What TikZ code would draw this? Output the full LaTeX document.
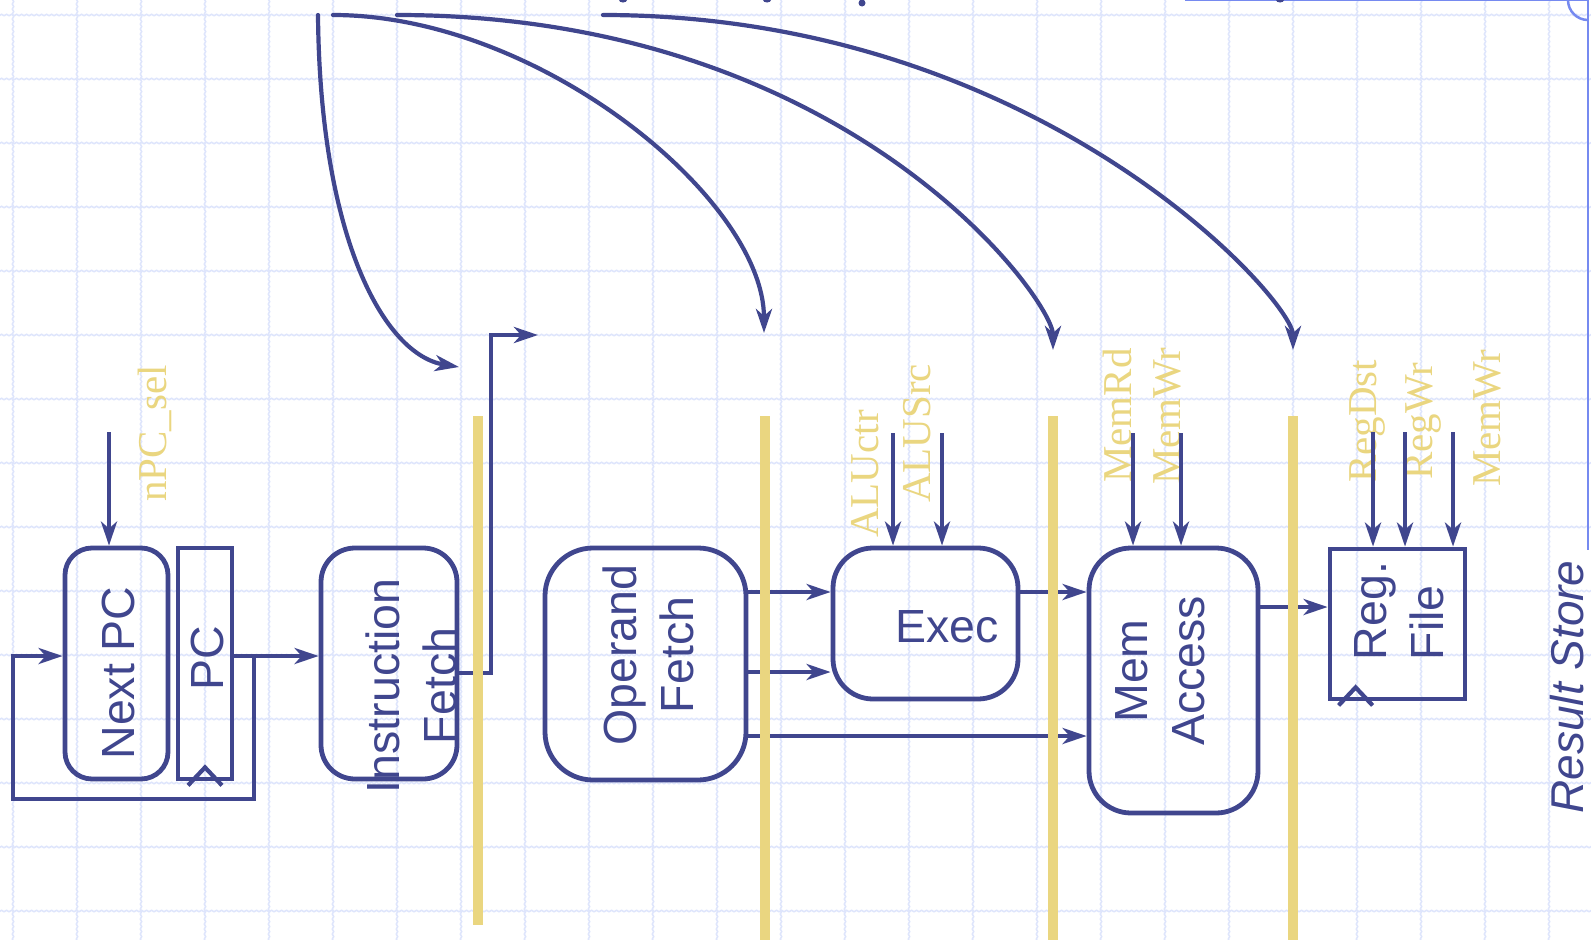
\documentclass[tikz,border=0pt]{standalone}
\usepackage{fontspec}
\setmainfont{Liberation Serif}
\setsansfont{Liberation Sans}
\usetikzlibrary{arrows.meta,calc,decorations.pathmorphing}
\definecolor{navy}{RGB}{64,70,142}
\definecolor{gold}{RGB}{234,214,128}
\definecolor{gridc}{RGB}{222,229,252}
\definecolor{frameb}{RGB}{118,138,240}
\tikzset{
  gridln/.style={gridc, line width=1.5pt, decorate, decoration={snake, amplitude=0.7pt, segment length=5pt}},
  blk/.style={draw=navy, line width=4.8pt, inner sep=0pt},
  wire/.style={navy, line width=4.2pt},
  arr/.style={wire, -{Stealth[length=24pt,width=16pt,inset=7pt]}},
  stagebar/.style={gold, line width=10.5pt},
  boxtxt/.style={navy, font=\sffamily\fontsize{46.5}{57}\selectfont, rotate=90, align=center, inner sep=0pt},
  sig/.style={gold, font=\rmfamily\fontsize{41}{45}\selectfont, rotate=90, anchor=west, inner sep=0pt},
  framel/.style={frameb, line width=2.5pt},
}
\begin{document}
\begin{tikzpicture}[x=1pt,y=-1pt]
\useasboundingbox (0,0) rectangle (1591,940);
\clip (0,0) rectangle (1591,940);
\fill[white] (0,0) rectangle (1591,940);
% grid
\foreach \gx in {13,77,...,1591} \draw[gridln] (\gx,-5) -- (\gx,945);
\foreach \gy in {15,79,...,940} \draw[gridln] (-5,\gy) -- (1596,\gy);
% frame at top right
\draw[framel] (1185,0) -- (1588,0) -- (1588,550);
\draw[framel] (1568,0) arc[start angle=180,end angle=90,radius=20];
% descender marks of clipped title
\fill[navy] (623,0) ellipse (4 and 2.5);
\fill[navy] (767,0) ellipse (4 and 2.5);
\fill[navy] (862,3) ellipse (3.5 and 3.5);
\fill[navy] (1280,0) ellipse (4 and 2.5);
% signal labels
\node[sig] (lnpc) at (155,502) {nPC\_sel};
\node[sig] (lactr) at (865,538) {ALUctr};
\node[sig] (lasrc) at (917,503) {ALUSrc};
\node[sig] (lmrd) at (1117,483) {MemRd};
\node[sig] (lmwr) at (1167,485) {MemWr};
\node[sig] (lrdst) at (1367,483) {RegDst};
\node[sig] (lrwr) at (1423,480) {RegWr};
\node[sig] (lmwr2) at (1487,487) {MemWr};
% boxes
\node[blk, rounded corners=27pt, minimum width=103pt, minimum height=231pt] (npc) at (116.5,663.5) {};
\node[blk, minimum width=54pt, minimum height=231pt] (pc) at (205,663.5) {};
\node[blk, rounded corners=34pt, minimum width=136pt, minimum height=231pt] (ifetch) at (389,663.5) {};
\node[blk, rounded corners=48pt, minimum width=201pt, minimum height=232pt] (ofetch) at (645.5,664) {};
\node[blk, rounded corners=40pt, minimum width=185pt, minimum height=151pt] (exec) at (925.5,623.5) {};
\node[blk, rounded corners=42pt, minimum width=169pt, minimum height=265pt] (mem) at (1173.5,680.5) {};
\node[blk, minimum width=135pt, minimum height=150pt] (rf) at (1397.5,624) {};
% clock marks
\draw[wire] ($(pc.south)+(-17,4)$) -- ($(pc.south)+(0,-14)$) -- ($(pc.south)+(17,4)$);
\draw[wire] ($(rf.south west)+(11,4)$) -- ($(rf.south west)+(28,-14)$) -- ($(rf.south west)+(45,4)$);
% row coordinates
\coordinate (r656) at (0,656);
\coordinate (r673) at (0,673);
\coordinate (r592) at (0,592);
\coordinate (r672) at (0,672);
\coordinate (r736) at (0,736);
\coordinate (r607) at (0,607);
\coordinate (j1) at (254,656);
\coordinate (fbl) at (13,799);
\coordinate (ifo) at (491,335);
\coordinate (ift) at (538,335);
% datapath connectors
\draw[arr] (pc.east |- r656) -- (ifetch.west |- r656);
\draw[arr] (j1) -- (j1 |- fbl) -- (fbl) -- (fbl |- r656) -- (npc.west |- r656);
\draw[arr] (ifetch.east |- r673) -- (ifo |- r673) -- (ifo) -- (ift);
\draw[arr] (ofetch.east |- r592) -- (exec.west |- r592);
\draw[arr] (ofetch.east |- r672) -- (exec.west |- r672);
\draw[arr] (ofetch.east |- r736) -- (mem.west |- r736);
\draw[arr] (exec.east |- r592) -- (mem.west |- r592);
\draw[arr] (mem.east |- r607) -- (rf.west |- r607);
% control inputs
\coordinate (inpc) at (109,432);
\coordinate (iactr) at (893,433);
\coordinate (iasrc) at (942,433);
\coordinate (imrd) at (1133,433);
\coordinate (imwr) at (1181,433);
\coordinate (irdst) at (1373,432);
\coordinate (irwr) at (1405,432);
\coordinate (imwr2) at (1453,432);
\draw[arr] (inpc) -- (inpc |- npc.north);
\draw[arr] (iactr) -- (iactr |- exec.north);
\draw[arr] (iasrc) -- (iasrc |- exec.north);
\draw[arr] (imrd) -- (imrd |- mem.north);
\draw[arr] (imwr) -- (imwr |- mem.north);
\draw[arr] (irdst) -- (irdst |- rf.north);
\draw[arr] (irwr) -- (irwr |- rf.north);
\draw[arr] (imwr2) -- (imwr2 |- rf.north);
% control curves from the top
\coordinate (s1) at (318,15);
\coordinate (t1) at (459,367);
\coordinate (s2) at (333,15);
\coordinate (t2) at (764,333);
\coordinate (s3) at (397,15);
\coordinate (t3) at (1053,350);
\coordinate (s4) at (603,15);
\coordinate (t4) at (1293,350);
\draw[arr, line cap=round] (s1) .. controls (320,240) and (385,355) .. (t1);
\draw[arr, line cap=round] (s2) .. controls (540,15) and (764,200) .. (t2);
\draw[arr, line cap=round] (s3) .. controls (850,15) and (1053,300) .. (t3);
\draw[arr, line cap=round] (s4) .. controls (1040,15) and (1293,300) .. (t4);
% pipeline registers
\draw[stagebar] (478,416) -- (478,925);
\draw[stagebar] (765,416) -- (765,940);
\draw[stagebar] (1053,416) -- (1053,940);
\draw[stagebar] (1293,416) -- (1293,940);
% box texts
\node[boxtxt] (tnpc) at (118,673) {Next PC};
\node[boxtxt] (tpc) at (207,658) {PC};
\node[boxtxt] (tif) at (411,686) {Instruction\\Fetch};
\node[boxtxt] (tof) at (648,655) {Operand\\Fetch};
\node[navy, font=\sffamily\fontsize{46.5}{57}\selectfont, inner sep=0pt] (tex) at (947,627) {Exec};
\node[boxtxt] (tmem) at (1160,671) {Mem\\Access};
\node[boxtxt, align=left] (trf) at (1399,611) {Reg.\\File};
\node[navy, font=\sffamily\itshape\fontsize{46}{50}\selectfont, rotate=90, anchor=base, inner sep=0pt] (trs) at (1583,687) {Result Store};
\end{tikzpicture}
\end{document}
